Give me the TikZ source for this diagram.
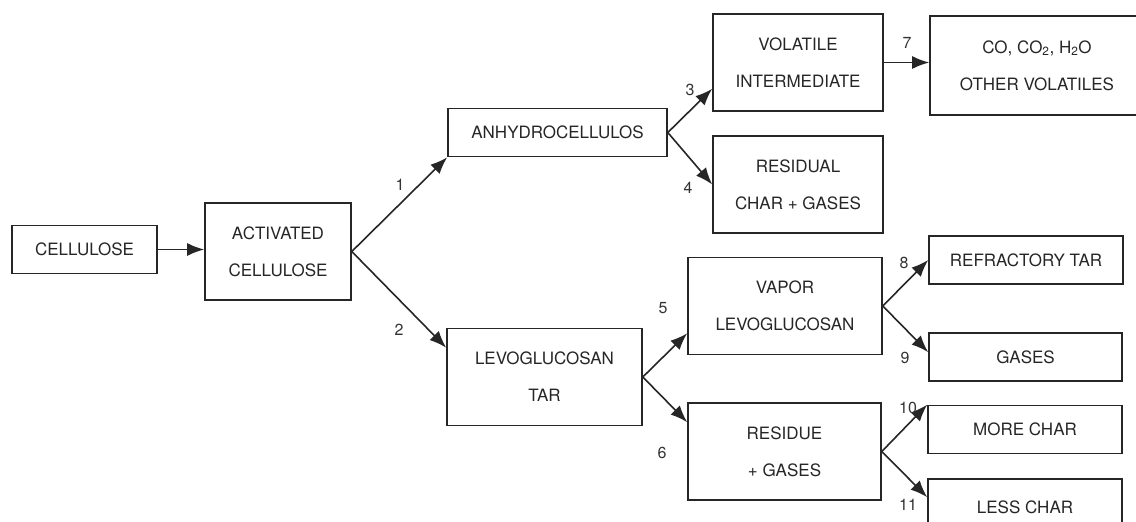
\documentclass[tikz,border=0pt]{standalone}
\usepackage{fontspec}
\setmainfont{TeX Gyre Heros}
\usetikzlibrary{arrows.meta}

\begin{document}
\begin{tikzpicture}[x=1pt, y=-1pt, ->, >={Latex[length=17pt,width=13pt]}, line width=1.6pt, draw=black!85]
		\tikzstyle{box}
		=[draw, rectangle, align=center, inner sep=0pt, text=black!85, font=\fontsize{17}{37}\selectfont]
		\tikzstyle{thin box}
		=[box, minimum height=48pt]
		\tikzstyle{tall box}
		=[box, minimum height=97pt]
		\tikzstyle{num}
		=[text=black!80, font=\fontsize{16}{16}\selectfont, inner sep=0pt]
		
		% Frame of the page
		\clip (0,0) rectangle (1136,522);
		
		% Starting material
		\node[thin box, minimum width=145pt] (cell) at (84.5,249.5) {CELLULOSE};
		\node[tall box, minimum width=146pt] (act) at (278,251.5) {ACTIVATED\\CELLULOSE};
		
		% First branching
		\node[thin box, minimum width=219pt] (anhy) at (557.5,132.5) {ANHYDROCELLULOS};
		\node[tall box, minimum width=195pt] (levo) at (544.5,377) {LEVOGLUCOSAN\\TAR};
		
		% Second branching
		\node[tall box, minimum width=170pt] (vol) at (798,62.5) {VOLATILE\\INTERMEDIATE};
		\node[tall box, minimum width=170pt] (resid) at (798,184.5) {RESIDUAL\\CHAR + GASES};
		\node[tall box, minimum width=194pt] (vap) at (785,306) {VAPOR\\LEVOGLUCOSAN};
		\node[tall box, minimum width=193pt] (resi) at (784.5,451.5) {RESIDUE\\+ GASES};
		
		% Final products
		\node[tall box, minimum width=214pt, minimum height=99pt] (co) at (1037,65.5)
		{CO, CO\textsubscript{2}, H\textsubscript{2}O\\OTHER VOLATILES};
		\node[thin box, minimum width=194pt] (refr) at (1026,260) {REFRACTORY TAR};
		\node[thin box, minimum width=193pt] (gas) at (1025.5,357) {GASES};
		\node[thin box, minimum width=194pt] (more) at (1025,429.5) {MORE CHAR};
		\node[thin box, minimum width=194pt, minimum height=56pt] (less) at (1025,507) {LESS CHAR};
		
		% Connect the boxes
		\path (cell) edge (cell -| act.west);
		\path (act.east) edge (anhy.south west);
		\path (act.east) edge ([yshift=-20pt]levo.north west);
		\path (anhy.east) edge ([yshift=23pt]vol.south west);
		\path (anhy.east) edge (resid.west);
		\path (vol.east) edge (vol.east -| co.west);
		\path (levo.east) edge ([yshift=22pt]vap.south west);
		\path (levo.east) edge ([yshift=-20pt]resi.north west);
		\path (vap.east) edge (refr.west);
		\path (vap.east) edge ([yshift=-20pt]gas.north west);
		\path (resi.east) edge (more.north west);
		\path (resi.east) edge ([yshift=-19pt]less.north west);
		
		% Number the reactions
		\foreach \n / \x / \y in {1/400/185, 2/399/330, 3/690/90, 4/688/188, 5/663/308, 6/662/453,
			7/907/43, 8/904/263, 9/905/358, 10/908/408, 11/908/505}
		\node[num] (n-\n) at (\x,\y) {\n};
	\end{tikzpicture}
\end{document}
